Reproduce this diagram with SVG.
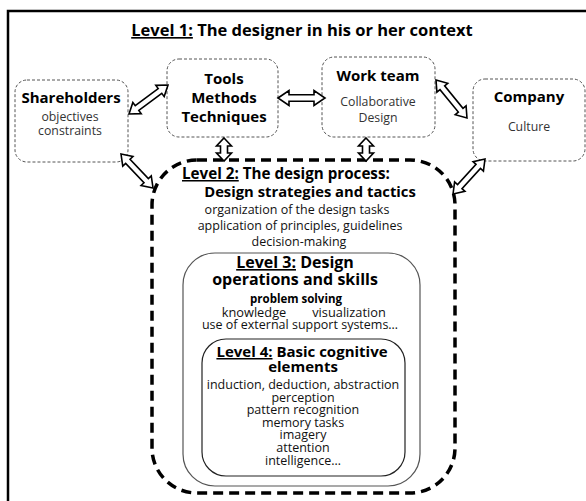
<svg xmlns="http://www.w3.org/2000/svg" width="586" height="501" viewBox="0 0 586 501">
<defs>
<style>
text{font-family:"Open Sans","Noto Sans","DejaVu Sans",sans-serif;text-anchor:middle}
.t{font-weight:bold;fill:#000}
.h1{font-size:16.5px}
.hn{font-size:15px}
.s{font-size:12.3px;fill:#333}
.r{font-size:12.5px;fill:#111}
.u{text-decoration:underline}
.n1{fill:#fff;stroke:#555;stroke-width:1;stroke-dasharray:3 2}
.arr{fill:#fff;stroke:#000;stroke-width:1.6;stroke-linejoin:miter}
.frame{fill:none;stroke:#000;stroke-width:2.5}
.l2{fill:none;stroke:#000;stroke-width:3.5;stroke-dasharray:10 6}
.l3{fill:none;stroke:#555;stroke-width:1.2}
.l4{fill:none;stroke:#222;stroke-width:1.2}
</style>
</defs>
<rect width="586" height="501" fill="#fff"/>
<path class="frame" d="M8,501 V11 H586"/>
<g id="level1-title">
<text class="t h1" x="302" y="36"><tspan class="u">Level 1:</tspan> The designer in his or her context</text>
</g>
<g id="level2">
<rect class="l2" x="152" y="160" width="303" height="333" rx="45"/>
<text class="t" style="font-size:15.2px;text-anchor:start" x="182" y="179"><tspan class="u">Level 2:</tspan>  The design process:</text>
<text class="t" style="font-size:14.8px" x="310" y="197">Design strategies and tactics</text>
<text class="r" x="297" y="214">organization of the design tasks</text>
<text class="r" x="300" y="230">application of principles, guidelines</text>
<text class="r" x="299" y="246">decision-making</text>
</g>
<g id="level3">
<rect class="l3" x="183" y="253" width="237" height="233" rx="32"/>
<text class="t" style="font-size:16px" x="295" y="268"><tspan class="u">Level 3:</tspan> Design</text>
<text class="t" style="font-size:16px" x="295" y="285">operations and skills</text>
<text class="t" style="font-size:11.5px" x="296" y="303">problem solving</text>
<text class="r" style="font-size:12.8px" x="254" y="317">knowledge</text>
<text class="r" style="font-size:12.8px" x="349" y="317">visualization</text>
<text class="r" x="300" y="329">use of external support systems…</text>
</g>
<g id="level4">
<rect class="l4" x="202" y="339" width="203" height="137" rx="24"/>
<text class="t" style="font-size:15px" x="302" y="357"><tspan class="u">Level 4:</tspan> Basic cognitive</text>
<text class="t" style="font-size:15px" x="303" y="372">elements</text>
<text class="r" x="303" y="389">induction, deduction, abstraction</text>
<text class="r" x="303" y="402">perception</text>
<text class="r" x="303" y="414">pattern recognition</text>
<text class="r" x="303" y="427">memory tasks</text>
<text class="r" x="303" y="439">imagery</text>
<text class="r" x="303" y="452">attention</text>
<text class="r" x="303" y="465">intelligence…</text>
</g>
<g id="shareholders">
<rect class="n1" x="15" y="80" width="113" height="82" rx="12"/>
<text class="t hn" x="71" y="103">Shareholders</text>
<text class="s" x="70" y="121">objectives</text>
<text class="s" x="70" y="135">constraints</text>
</g>
<g id="tools">
<rect class="n1" x="167" y="59" width="111" height="78" rx="12"/>
<text class="t hn" x="224" y="84">Tools</text>
<text class="t hn" x="224" y="103">Methods</text>
<text class="t hn" x="224" y="122">Techniques</text>
</g>
<g id="workteam">
<rect class="n1" x="322" y="57" width="113" height="80" rx="12"/>
<text class="t hn" x="378" y="81">Work team</text>
<text class="s" x="378" y="106">Collaborative</text>
<text class="s" x="378" y="122">Design</text>
</g>
<g id="company">
<rect class="n1" x="473" y="79" width="112" height="82" rx="12"/>
<text class="t hn" x="529" y="102">Company</text>
<text class="s" x="529" y="131">Culture</text>
</g>
<g id="connectors">
<path class="arr" transform="translate(129,114) rotate(-36.6)" d="M0,0 L10,-7 L10,-3 L38.6,-3 L38.6,-7 L48.6,0 L38.6,7 L38.6,3 L10,3 L10,7 Z"/>
<path class="arr" transform="translate(278,98)" d="M0,0 L11,-7.5 L11,-3.3 L36,-3.3 L36,-7.5 L47,0 L36,7.5 L36,3.3 L11,3.3 L11,7.5 Z"/>
<path class="arr" transform="translate(436,80) rotate(50.8)" d="M0,0 L10,-7 L10,-3 L39,-3 L39,-7 L49,0 L39,7 L39,3 L10,3 L10,7 Z"/>
<path class="arr" transform="translate(485,159) rotate(132.4)" d="M0,0 L10,-7 L10,-3 L37.4,-3 L37.4,-7 L47.4,0 L37.4,7 L37.4,3 L10,3 L10,7 Z"/>
<path class="arr" transform="translate(121,154) rotate(46.7)" d="M0,0 L10,-7 L10,-3 L36.7,-3 L36.7,-7 L46.7,0 L36.7,7 L36.7,3 L10,3 L10,7 Z"/>
<path class="arr" transform="translate(224,138) rotate(90)" d="M0,0 L8,-7.5 L8,-3.5 L15,-3.5 L15,-7.5 L23,0 L15,7.5 L15,3.5 L8,3.5 L8,7.5 Z"/>
<path class="arr" transform="translate(366,138) rotate(90)" d="M0,0 L8,-7.5 L8,-3.5 L15,-3.5 L15,-7.5 L23,0 L15,7.5 L15,3.5 L8,3.5 L8,7.5 Z"/>
</g>
</svg>
